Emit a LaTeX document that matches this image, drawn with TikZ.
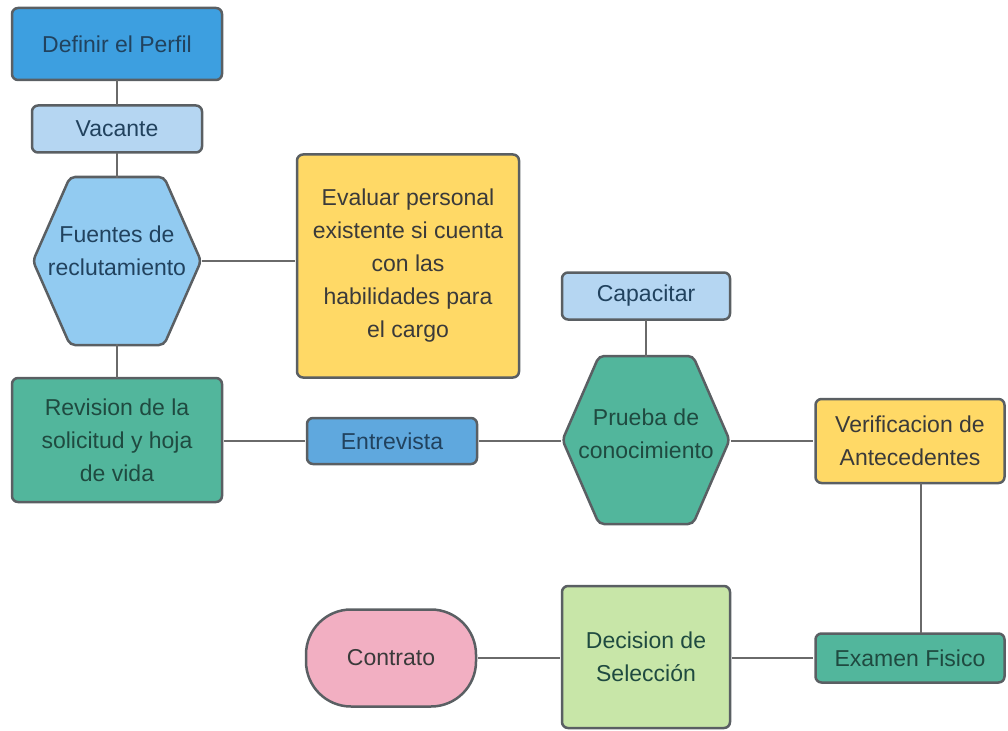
\documentclass[tikz,border=0pt]{standalone}
\usepackage{fontspec}
\setmainfont{Liberation Sans}
\definecolor{bordc}{HTML}{5A5F63}
\definecolor{linec}{HTML}{6A6A6A}
\definecolor{cblue}{HTML}{3D9FE0}
\definecolor{clblue}{HTML}{B5D6F2}
\definecolor{chblue}{HTML}{92CBF1}
\definecolor{cmblue}{HTML}{5FA8DE}
\definecolor{cyel}{HTML}{FFD966}
\definecolor{cteal}{HTML}{52B69C}
\definecolor{cgreen}{HTML}{C8E6A8}
\definecolor{cpink}{HTML}{F2AFC2}
\definecolor{tnavy}{HTML}{21425E}
\definecolor{tdark}{HTML}{3A3A3A}
\definecolor{tteal}{HTML}{1F4A40}
\begin{document}
\begin{tikzpicture}[x=1pt,y=-1pt,
  box/.style={draw=bordc,line width=2.5pt,rounded corners=6pt,align=center,
    font=\fontsize{23}{33}\selectfont,inner sep=0pt,text=tdark},
  ghost/.style={inner sep=0pt,align=center,font=\fontsize{23}{33}\selectfont,text=tdark},
  conn/.style={draw=linec,line width=2pt},
  hexs/.style={draw=bordc,line width=2.5pt,rounded corners=5pt}]
\useasboundingbox (0,0) rectangle (1008,730);

\node[box,fill=cblue,text=tnavy,minimum width=210pt,minimum height=72pt] (perfil) at (117,44) {Definir el Perfil};
\node[box,fill=clblue,text=tnavy,minimum width=170pt,minimum height=47pt] (vacante) at (117,129) {Vacante};

% Fuentes hexagon
\node[minimum width=168pt,minimum height=168pt,inner sep=0pt] (fuentes) at (117,261) {};
\draw[hexs,fill=chblue] ([xshift=-84pt]fuentes.center) -- ([xshift=-47pt,yshift=84pt]fuentes.center)
  -- ([xshift=47pt,yshift=84pt]fuentes.center) -- ([xshift=84pt]fuentes.center)
  -- ([xshift=47pt,yshift=-84pt]fuentes.center) -- ([xshift=-47pt,yshift=-84pt]fuentes.center) -- cycle;
\node[ghost,text=tnavy] (fuentest) at (117,251) {Fuentes de\\reclutamiento};

\node[box,fill=cyel,minimum width=222pt,minimum height=223pt] (evaluar) at (408,266)
  {Evaluar personal\\existente si cuenta\\con las\\habilidades para\\el cargo};

\node[box,fill=cteal,text=tteal,minimum width=210pt,minimum height=124pt] (revision) at (117,440)
  {Revision de la\\solicitud y hoja\\de vida};

\node[box,fill=cmblue,text=tnavy,minimum width=170pt,minimum height=46pt] (entrevista) at (392,441) {Entrevista};

\node[box,fill=clblue,text=tnavy,minimum width=168pt,minimum height=47pt] (capacitar) at (646,296) {Capacitar};

% Prueba hexagon
\node[minimum width=167pt,minimum height=168pt,inner sep=0pt] (prueba) at (646,440) {};
\draw[hexs,fill=cteal] ([xshift=-83.5pt]prueba.center) -- ([xshift=-47pt,yshift=84pt]prueba.center)
  -- ([xshift=47pt,yshift=84pt]prueba.center) -- ([xshift=83.5pt]prueba.center)
  -- ([xshift=47pt,yshift=-84pt]prueba.center) -- ([xshift=-47pt,yshift=-84pt]prueba.center) -- cycle;
\node[ghost,text=tteal] (pruebat) at (646,434) {Prueba de\\conocimiento};

\node[box,fill=cyel,minimum width=189pt,minimum height=84pt] (verif) at (910,441)
  {Verificacion de\\Antecedentes};

\node[box,fill=cteal,text=tteal,minimum width=189pt,minimum height=49pt] (examen) at (910,658) {Examen Fisico};

\node[box,fill=cgreen,text=tteal,minimum width=168pt,minimum height=142pt] (decision) at (646,657)
  {Decision de\\Selección};

\node[box,fill=cpink,text=tdark,rounded corners=45pt,minimum width=170pt,minimum height=97pt] (contrato) at (391,658) {Contrato};

% connectors
\draw[conn] ([yshift=1.2pt]perfil.south) -- ([yshift=-1.2pt]vacante.north);
\draw[conn] ([yshift=1.2pt]vacante.south) -- ([yshift=-1.2pt]fuentes.north);
\draw[conn] ([xshift=1.2pt]fuentes.east) -- ([xshift=-1.2pt]fuentes.east -| evaluar.west);
\draw[conn] ([yshift=1.2pt]fuentes.south) -- ([yshift=-1.2pt]revision.north);
\draw[conn] ([xshift=1.2pt]revision.east |- entrevista.west) -- ([xshift=-1.2pt]entrevista.west);
\draw[conn] ([xshift=1.2pt]entrevista.east) -- ([xshift=-1.2pt]prueba.west |- entrevista.east);
\draw[conn] ([yshift=1.2pt]capacitar.south) -- ([yshift=-1.2pt]prueba.north);
\draw[conn] ([xshift=1.2pt]prueba.east |- verif.west) -- ([xshift=-1.2pt]verif.west);
\draw[conn] ([xshift=11pt,yshift=1.2pt]verif.south) -- ([xshift=11pt,yshift=-1.2pt]examen.north);
\draw[conn] ([xshift=-1.2pt]examen.west) -- ([xshift=1.2pt]decision.east |- examen.west);
\draw[conn] ([xshift=-1.2pt]decision.west |- contrato.east) -- ([xshift=1.2pt]contrato.east);
\end{tikzpicture}
\end{document}
